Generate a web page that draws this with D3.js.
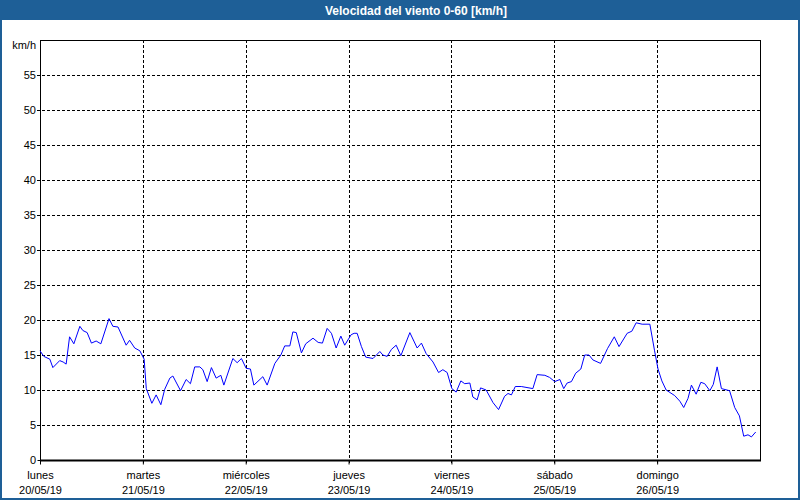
<!DOCTYPE html>
<html>
<head>
<meta charset="utf-8">
<script src="https://cdn.jsdelivr.net/npm/d3@7"></script>
<style>
  html, body { margin: 0; padding: 0; background: #ffffff; }
  svg { display: block; }
  text { font-family: "Liberation Sans", Arial, sans-serif; }
</style>
</head>
<body>
<script>
// ---- data ----
const title = "Velocidad del viento 0-60 [km/h]";
const unitLabel = "km/h";
const startDate = new Date(2019, 4, 20, 0, 0);
const dayNames = ["lunes", "martes", "miércoles", "jueves", "viernes", "sábado", "domingo"];
const dayDates = ["20/05/19", "21/05/19", "22/05/19", "23/05/19", "24/05/19", "25/05/19", "26/05/19"];
const yTicks = [0, 5, 10, 15, 20, 25, 30, 35, 40, 45, 50, 55];
// hours since start of 20/05/19
const hours = [0, 0.9, 2.3, 3, 4.6, 5.4, 6.1, 6.9, 7.9, 9.3, 10, 11, 12, 13.1, 14.2, 16.1, 17, 18.2, 20.1, 20.9,
  22.1, 23.3, 24.3, 24.8, 26.1, 27.1, 28.2, 29.1, 30.3, 31, 32.8, 34.1, 35.1, 36.1, 37.3, 38, 39, 40, 41.1, 42.2,
  42.9, 45, 46, 47, 48.1, 49.1, 49.9, 52, 53, 54.8, 56.2, 57.1, 58.3, 59, 59.8, 61, 62, 63.7, 64.9, 65.9,
  67, 68, 69.1, 70.2, 71.1, 72.6, 73.3, 74, 75, 76, 77.7, 79.3, 80, 81, 82, 83.1, 84.2, 86.3, 88, 89,
  90.1, 91.7, 93, 94, 95, 96.1, 97.1, 98.2, 99.1, 100.3, 101, 102, 102.8, 104.1, 105.7, 107, 108.4, 109.2, 110, 110.9,
  112.3, 115, 116, 117.8, 118.9, 120.1, 121.3, 122.2, 123, 124, 125, 126.2, 127.1, 128.1, 129, 130.8, 132.4, 134, 135.1, 137,
  138.1, 139.1, 140.5, 142.3, 143.4, 144.2, 145.1, 146.1, 148.1, 149.3, 150.2, 151.2, 152, 153.1, 154.2, 155.1, 156.3, 157.1, 158, 159,
  160.9, 162.1, 163.2, 164.2, 165.2, 166, 167];
const speed = [15.6, 14.8, 14.4, 13.2, 14.2, 14.0, 13.7, 17.6, 16.6, 19.1, 18.5, 18.2, 16.7, 17.0, 16.6, 20.2, 19.1, 19.0, 16.4, 17.1,
  16.0, 15.6, 14.4, 10.2, 8.1, 9.3, 7.9, 10.1, 11.7, 12.0, 9.9, 11.5, 10.9, 13.3, 13.3, 12.9, 11.2, 13.2, 11.7, 12.1,
  10.7, 14.5, 13.9, 14.5, 13.1, 13.0, 10.7, 11.9, 10.7, 13.8, 15.0, 16.3, 16.3, 18.3, 18.2, 15.3, 16.6, 17.4, 16.8, 16.7,
  18.8, 18.1, 16.0, 17.7, 16.4, 17.9, 18.1, 18.1, 16.2, 14.7, 14.5, 15.5, 15.0, 14.8, 15.8, 16.4, 14.9, 18.2, 16.0, 16.7,
  15.2, 14.0, 12.5, 12.9, 12.5, 10.2, 9.7, 11.3, 10.9, 11.0, 9.0, 8.6, 10.3, 10.0, 8.2, 7.2, 9.1, 9.5, 9.3, 10.5,
  10.5, 10.2, 12.2, 12.1, 11.8, 11.2, 11.5, 10.2, 11.0, 11.2, 12.4, 13.0, 15.0, 15.0, 14.3, 13.8, 15.9, 17.6, 16.2, 18.1,
  18.4, 19.6, 19.4, 19.4, 15.6, 13.0, 11.3, 10.0, 9.2, 8.4, 7.5, 8.8, 10.7, 9.4, 11.1, 10.9, 9.9, 10.8, 13.3, 10.2,
  9.9, 7.5, 6.3, 3.4, 3.6, 3.3, 4.0];

// ---- layout ----
const W = 800, H = 500;
const blue = "#1e5f97";
const plot = { left: 40, right: 760, top: 40, bottom: 460 };

const svg = d3.select("body").append("svg").attr("width", W).attr("height", H);

// window frame
svg.append("rect").attr("x", 0).attr("y", 0).attr("width", W).attr("height", H).attr("fill", "#ffffff");
svg.append("rect").attr("x", 0).attr("y", 0).attr("width", W).attr("height", 20).attr("fill", blue);
svg.append("rect").attr("x", 1).attr("y", 1).attr("width", W - 2).attr("height", H - 2)
  .attr("fill", "none").attr("stroke", blue).attr("stroke-width", 2);
svg.append("text").attr("x", 416).attr("y", 14.5).attr("text-anchor", "middle")
  .attr("fill", "#ffffff").attr("font-weight", "bold").attr("font-size", "12px").text(title);

// scales
const endDate = d3.timeDay.offset(startDate, 7);
const x = d3.scaleTime().domain([startDate, endDate]).range([plot.left, plot.right]);
const y = d3.scaleLinear().domain([0, 60]).range([plot.bottom, plot.top]);

const dayTicks = d3.range(7).map(i => d3.timeDay.offset(startDate, i));

// grid
const grid = svg.append("g").attr("stroke", "#000").attr("stroke-width", 1).attr("stroke-dasharray", "3,2");
grid.selectAll("line.h").data(yTicks.filter(v => v > 0)).enter().append("line")
  .attr("x1", plot.left - 3).attr("x2", plot.right)
  .attr("y1", d => Math.round(y(d)) + 0.5).attr("y2", d => Math.round(y(d)) + 0.5);
grid.selectAll("line.v").data(dayTicks.slice(1)).enter().append("line")
  .attr("x1", d => Math.round(x(d)) + 0.5).attr("x2", d => Math.round(x(d)) + 0.5)
  .attr("y1", plot.top).attr("y2", plot.bottom + 4);

// axes via d3 axis generators (text only, lines drawn as frame)
const yAxis = d3.axisLeft(y).tickValues(yTicks).tickSize(3).tickFormat(d3.format("d"));
const gy = svg.append("g").attr("transform", `translate(${plot.left + 0.5},0)`).call(yAxis);
gy.select(".domain").remove();
gy.selectAll(".tick line").attr("stroke", "#000");
gy.selectAll(".tick text").attr("font-family", "Liberation Sans, Arial, sans-serif")
  .attr("font-size", "11px").attr("fill", "#000").attr("x", -4.5);

const xAxis = d3.axisBottom(x).tickValues(dayTicks).tickSize(4).tickFormat(() => "");
const gx = svg.append("g").attr("transform", `translate(0,${plot.bottom + 0.5})`).call(xAxis);
gx.select(".domain").remove();
gx.selectAll(".tick line").attr("stroke", "#000");
gx.selectAll(".tick").each(function (d, i) {
  const t = d3.select(this).append("text").attr("fill", "#000").attr("font-size", "11px")
    .attr("font-family", "Liberation Sans, Arial, sans-serif").attr("text-anchor", "middle");
  t.append("tspan").attr("x", 0).attr("y", 18).text(dayNames[i]);
  t.append("tspan").attr("x", 0).attr("y", 33).text(dayDates[i]);
});

svg.append("text").attr("x", 36).attr("y", 49).attr("text-anchor", "end")
  .attr("font-size", "11px").attr("fill", "#000").text(unitLabel);

// plot frame
svg.append("rect").attr("x", plot.left + 0.5).attr("y", plot.top + 0.5)
  .attr("width", plot.right - plot.left).attr("height", plot.bottom - plot.top)
  .attr("fill", "none").attr("stroke", "#000").attr("stroke-width", 1);
svg.append("line").attr("x1", plot.left).attr("x2", plot.right + 1)
  .attr("y1", plot.bottom + 0.5).attr("y2", plot.bottom + 0.5).attr("stroke", "#000").attr("stroke-width", 2);

// series
const pts = hours.map((h, i) => ({ t: new Date(startDate.getTime() + h * 3600e3), v: speed[i] }));
const line = d3.line().x(d => x(d.t)).y(d => y(d.v));
svg.append("path").datum(pts).attr("d", line).attr("fill", "none")
  .attr("stroke", "#0000ff").attr("stroke-width", 1);
</script>
</body>
</html>
